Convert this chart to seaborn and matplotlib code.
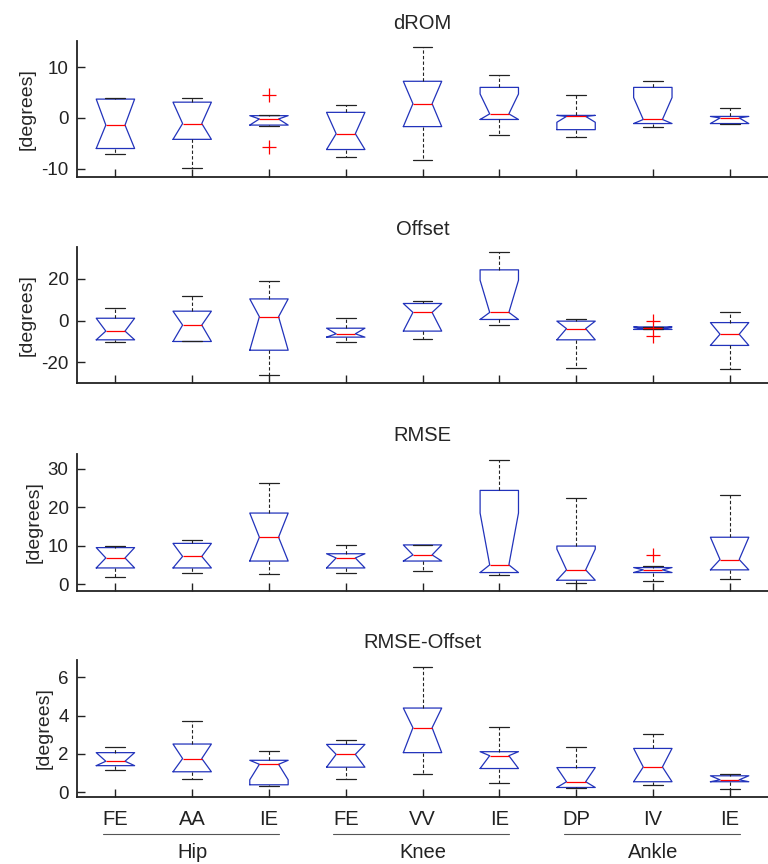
import matplotlib
matplotlib.use("Agg")
import matplotlib.pyplot as plt
import seaborn as sns

# categories
motions = ["FE", "AA", "IE", "FE", "VV", "IE", "DP", "IV", "IE"]
joints = ["Hip", "Knee", "Ankle"]
joint_of = ["Hip", "Hip", "Hip", "Knee", "Knee", "Knee", "Ankle", "Ankle", "Ankle"]
titles = ["dROM", "Offset", "RMSE", "RMSE-Offset"]

# dROM box statistics (degrees)
drom_hi = [3.9, 4.0, 0.5, 2.5, 14.0, 8.5, 4.5, 7.3, 1.95]
drom_q3 = [3.7, 3.1, 0.45, 1.1, 7.2, 6.0, 0.5, 6.0, 0.3]
drom_med = [-1.4, -1.1, -0.2, -3.1, 2.8, 0.8, 0.3, -0.3, 0.0]
drom_q1 = [-6.0, -4.2, -1.4, -6.2, -1.7, -0.3, -2.3, -1.1, -1.1]
drom_lo = [-7.1, -9.9, -1.5, -7.7, -8.2, -3.4, -3.7, -1.7, -1.1]
drom_nhi = [3.7, 3.1, 0.45, 1.1, 7.2, 4.7, 0.5, 4.0, 0.3]
drom_nlo = [-6.0, -4.2, -1.4, -6.2, -1.7, -0.3, -0.85, -1.1, -1.1]
drom_out = [[], [], [4.5, -5.8], [], [], [], [], [], []]

# Offset
off_hi = [6.1, 11.7, 18.8, 1.1, 9.6, 32.9, 0.5, -3.1, 3.9]
off_q3 = [1.1, 4.5, 10.4, -3.7, 8.2, 24.4, -0.3, -3.1, -1.0]
off_med = [-5.1, -2.2, 1.8, -6.4, 3.9, 3.9, -3.9, -3.7, -6.6]
off_q1 = [-9.3, -10.1, -14.3, -8.0, -5.1, 0.5, -9.3, -4.3, -12.0]
off_lo = [-10.3, -10.1, -26.3, -10.3, -8.7, -2.4, -22.8, -4.3, -23.5]
off_nhi = [1.1, 4.5, 10.4, -3.7, 8.2, 19.4, -0.3, -3.1, -1.0]
off_nlo = [-9.3, -10.1, -14.3, -8.0, -5.1, 0.5, -9.3, -4.3, -12.0]
off_out = [[], [], [], [], [], [], [], [0.0, -7.3], []]

# RMSE
rmse_hi = [9.8, 11.4, 26.3, 10.2, 10.2, 32.3, 22.3, 4.6, 23.1]
rmse_q3 = [9.5, 10.6, 18.5, 7.9, 10.2, 24.4, 9.9, 4.3, 12.2]
rmse_med = [6.8, 7.2, 12.2, 6.8, 7.6, 5.0, 3.7, 3.7, 6.4]
rmse_q1 = [4.2, 4.2, 6.0, 4.2, 6.0, 3.0, 1.0, 3.0, 3.7]
rmse_lo = [1.8, 3.0, 2.6, 3.0, 3.3, 2.3, 0.35, 0.7, 1.4]
rmse_nhi = [9.5, 10.6, 18.5, 7.9, 10.2, 18.5, 9.1, 4.3, 12.2]
rmse_nlo = [4.2, 4.2, 6.0, 4.2, 6.0, 3.0, 1.0, 3.0, 3.7]
rmse_out = [[], [], [], [], [], [], [], [7.6], []]

# RMSE-Offset
ro_hi = [2.35, 3.72, 2.13, 2.73, 6.52, 3.41, 2.35, 3.04, 0.93]
ro_q3 = [2.06, 2.51, 1.66, 2.49, 4.39, 2.11, 1.28, 2.28, 0.85]
ro_med = [1.61, 1.75, 1.45, 1.97, 3.36, 1.90, 0.54, 1.31, 0.64]
ro_q1 = [1.38, 1.06, 0.38, 1.30, 2.06, 1.23, 0.24, 0.54, 0.54]
ro_lo = [1.14, 0.67, 0.31, 0.67, 0.93, 0.47, 0.22, 0.38, 0.16]
ro_nhi = [2.06, 2.51, 1.66, 2.49, 4.39, 2.11, 1.28, 2.28, 0.85]
ro_nlo = [1.38, 1.06, 0.64, 1.30, 2.06, 1.23, 0.24, 0.54, 0.54]
ro_out = [[], [], [], [], [], [], [], [], []]

yticks = [[-10, 0, 10], [-20, 0, 20], [0, 10, 20, 30], [0, 2, 4, 6]]
ylims = [(-11.6, 15.1), (-30.1, 35.4), (-1.8, 33.9), (-0.26, 6.9)]

panels = [
    (drom_lo, drom_q1, drom_med, drom_q3, drom_hi, drom_nlo, drom_nhi, drom_out),
    (off_lo, off_q1, off_med, off_q3, off_hi, off_nlo, off_nhi, off_out),
    (rmse_lo, rmse_q1, rmse_med, rmse_q3, rmse_hi, rmse_nlo, rmse_nhi, rmse_out),
    (ro_lo, ro_q1, ro_med, ro_q3, ro_hi, ro_nlo, ro_nhi, ro_out),
]

sns.set_style("ticks")
plt.rcParams["font.family"] = ["Liberation Sans", "DejaVu Sans"]
plt.rcParams["axes.unicode_minus"] = False

fig = plt.figure(figsize=(7.68, 8.64), dpi=100)
bottoms = [0.7951, 0.5567, 0.3160, 0.0775]
heights = [0.1574, 0.1574, 0.1586, 0.1586]
positions = list(range(1, len(motions) + 1))

for i, (title, data) in enumerate(zip(titles, panels)):
    ax = fig.add_axes([0.1003, bottoms[i], 0.8997, heights[i]])
    lo, q1, med, q3, hi, nlo, nhi, out = data
    stats = []
    for k in range(len(motions)):
        stats.append(dict(whislo=lo[k], q1=q1[k], med=med[k], q3=q3[k], whishi=hi[k],
                          cilo=nlo[k], cihi=nhi[k], fliers=out[k]))
    ax.bxp(stats, positions=positions, widths=0.5, capwidths=0.26, shownotches=True,
           manage_ticks=False,
           boxprops=dict(color="#2233bb", lw=0.9),
           medianprops=dict(color="red", lw=0.9),
           whiskerprops=dict(color="#222222", lw=0.8, ls=(0, (3, 2))),
           capprops=dict(color="#222222", lw=0.9),
           flierprops=dict(marker="+", markeredgecolor="red", markersize=10,
                           markeredgewidth=0.9, ls="none"))
    ax.set_xlim(0.5, 9.5)
    ax.set_ylim(*ylims[i])
    ax.set_yticks(yticks[i])
    ax.set_xticks(positions)
    ax.set_title(title, fontsize=14.5, pad=9)
    ax.set_ylabel("[degrees]", fontsize=14, labelpad=4)
    sns.despine(ax=ax)
    for s in ["left", "bottom"]:
        ax.spines[s].set_linewidth(1.3)
        ax.spines[s].set_color("#222222")
    ax.tick_params(direction="in", length=6, width=1, colors="#222222", labelsize=13.5, pad=6)
    if i < 3:
        ax.set_xticklabels([])
    else:
        ax.set_xticklabels(motions, fontsize=14.5)
        ax.tick_params(axis="x", pad=9)
        tr = ax.get_xaxis_transform()
        for j in joints:
            idx = [p for p, g in zip(positions, joint_of) if g == j]
            x0, x1 = min(idx) - 0.16, max(idx) + 0.13
            ax.plot([x0, x1], [-0.27, -0.27], color="#555555", lw=0.8,
                    transform=tr, clip_on=False)
            ax.text((min(idx) + max(idx)) / 2, -0.405, j, transform=tr,
                    ha="center", va="center", fontsize=14.5, color="#222222")

fig.savefig("out.png", dpi=100)
